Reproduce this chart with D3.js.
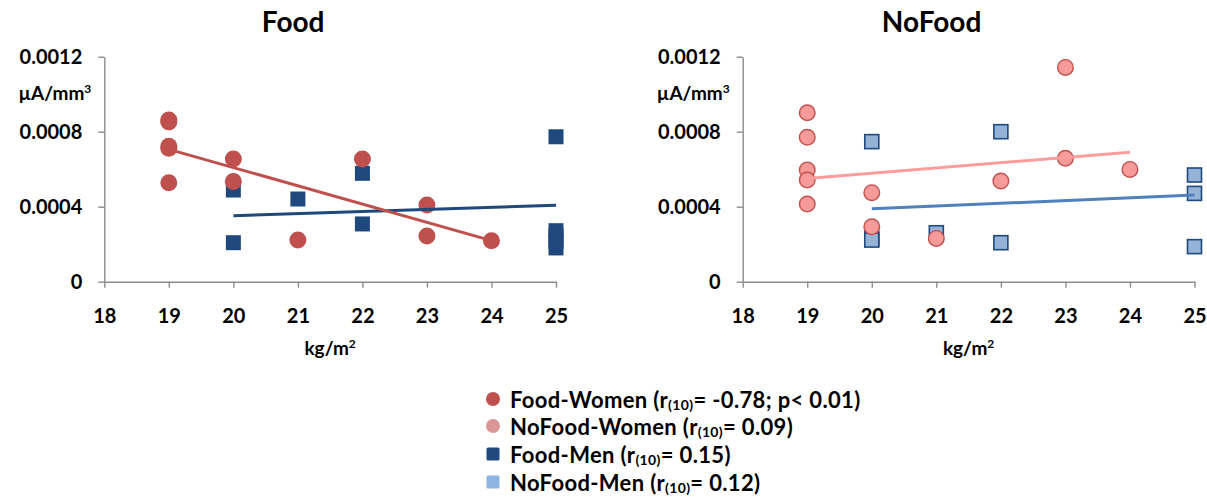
<!DOCTYPE html>
<html>
<head>
<meta charset="utf-8">
<script src="https://cdn.jsdelivr.net/npm/d3@7"></script>
<style>
  html, body { margin: 0; padding: 0; background: #ffffff; }
  svg { display: block; }
  text { font-family: Lato, "Open Sans", sans-serif; font-weight: bold; fill: #000; }
</style>
</head>
<body>
<svg id="chart" width="1207" height="503"></svg>
<script>
// ---------------- data ----------------
const panelTitles = ["Food", "NoFood"];
const xTicks = [18, 19, 20, 21, 22, 23, 24, 25];
const yTicks = [0, 0.0004, 0.0008, 0.0012];
const yTickLabels = ["0", "0.0004", "0.0008", "0.0012"];
const xAxisTitle = "kg/m";
const yAxisTitle = "µA/mm";

// Food panel
const foodWomenX = [19, 19, 19, 19, 19, 20, 20, 21, 22, 23, 23, 24];
const foodWomenY = [0.000862, 0.000852, 0.000722, 0.000712, 0.000528, 0.000654, 0.000535, 0.000222, 0.000654, 0.000409, 0.000244, 0.000219];
const foodMenX = [20, 20, 21, 22, 22, 25, 25, 25, 25, 25];
const foodMenY = [0.000489, 0.000208, 0.000441, 0.000578, 0.000308, 0.000773, 0.000272, 0.000245, 0.000215, 0.000180];
const foodWomenTrendX = [19, 24];
const foodWomenTrendY = [0.000706, 0.000219];
const foodMenTrendX = [20, 25];
const foodMenTrendY = [0.000352, 0.000408];

// NoFood panel
const noFoodWomenX = [19, 19, 19, 19, 19, 20, 20, 21, 22, 23, 23, 24];
const noFoodWomenY = [0.000901, 0.000770, 0.000596, 0.000542, 0.000414, 0.000475, 0.000293, 0.000231, 0.000537, 0.001143, 0.000658, 0.000599];
const noFoodMenX = [20, 20, 20, 21, 22, 22, 25, 25, 25];
const noFoodMenY = [0.000747, 0.000231, 0.000222, 0.000261, 0.000800, 0.000208, 0.000569, 0.000471, 0.000187];
const noFoodWomenTrendX = [19, 24];
const noFoodWomenTrendY = [0.000551, 0.000690];
const noFoodMenTrendX = [20, 25];
const noFoodMenTrendY = [0.000389, 0.000462];

// legend
const legendNames = ["Food-Women (r", "NoFood-Women (r", "Food-Men (r", "NoFood-Men (r"];
const legendSub = ["(10)", "(10)", "(10)", "(10)"];
const legendTail = ["= -0.78; p< 0.01)", "= 0.09)", "= 0.15)", "= 0.12)"];

// ---------------- styles ----------------
const C = {
  foodWomen: "#C0504D",
  foodMen: "#1F497D",
  noFoodWomenFill: "#F79B9A",
  noFoodWomenStroke: "#C0504D",
  noFoodMenFill: "#95B3D7",
  noFoodMenStroke: "#1F497D",
  noFoodWomenLine: "#FF9C9C",
  noFoodMenLine: "#4F81BD",
  axis: "#8C8C8C",
  legendNoFoodWomen: "#D99694",
  legendNoFoodMen: "#8DB4E2"
};

const svg = d3.select("#chart");

const panels = [
  { left: 104.3, right: 556, top: 56.7, bottom: 281.7, title: panelTitles[0],
    women: { x: foodWomenX, y: foodWomenY, fill: C.foodWomen, stroke: "none", r: 8.5 },
    men: { x: foodMenX, y: foodMenY, fill: C.foodMen, stroke: "none", s: 15 },
    lines: [
      { x: foodMenTrendX, y: foodMenTrendY, color: C.foodMen },
      { x: foodWomenTrendX, y: foodWomenTrendY, color: C.foodWomen }
    ] },
  { left: 742.7, right: 1194.5, top: 56.7, bottom: 281.7, title: panelTitles[1],
    women: { x: noFoodWomenX, y: noFoodWomenY, fill: C.noFoodWomenFill, stroke: C.noFoodWomenStroke, r: 7.8 },
    men: { x: noFoodMenX, y: noFoodMenY, fill: C.noFoodMenFill, stroke: C.noFoodMenStroke, s: 14 },
    lines: [
      { x: noFoodMenTrendX, y: noFoodMenTrendY, color: C.noFoodMenLine },
      { x: noFoodWomenTrendX, y: noFoodWomenTrendY, color: C.noFoodWomenLine }
    ] }
];

panels.forEach(p => {
  const x = d3.scaleLinear().domain([18, 25]).range([p.left, p.right]);
  const y = d3.scaleLinear().domain([0, 0.0012]).range([p.bottom, p.top]);
  const g = svg.append("g");

  // axes
  const yAxis = d3.axisLeft(y).tickValues(yTicks)
    .tickFormat((d, i) => yTickLabels[i]).tickSize(6).tickSizeOuter(0).tickPadding(16);
  const yg = g.append("g").attr("transform", `translate(${p.left},0)`).call(yAxis);
  const xAxis = d3.axisBottom(x).tickValues(xTicks)
    .tickFormat(d => String(d)).tickSize(6).tickSizeOuter(0).tickPadding(21);
  const xg = g.append("g").attr("transform", `translate(0,${p.bottom})`).call(xAxis);
  [yg, xg].forEach(a => {
    a.selectAll("path, line").attr("stroke", C.axis).attr("stroke-width", 1.4);
    a.selectAll("text").style("font-size", "20px").style("font-family", "Lato, sans-serif")
      .style("font-weight", "bold").attr("fill", "#000");
  });

  // titles
  g.append("text").attr("x", (p.left + p.right) / 2 - 37).attr("y", 32)
    .attr("text-anchor", "middle").style("font-size", "28px").text(p.title);

  const yt = g.append("text").attr("x", p.left - 13).attr("y", 100)
    .attr("text-anchor", "end").style("font-size", "19px");
  yt.append("tspan").text(yAxisTitle);
  yt.append("tspan").attr("dy", -7).style("font-size", "12px").text("3");

  const xt = g.append("text").attr("x", (p.left + p.right) / 2).attr("y", 355)
    .attr("text-anchor", "middle").style("font-size", "19px");
  xt.append("tspan").text(xAxisTitle);
  xt.append("tspan").attr("dy", -7).style("font-size", "12px").text("2");

  // men squares
  const men = p.men;
  g.append("g").selectAll("rect").data(men.x.map((d, i) => [d, men.y[i]])).join("rect")
    .attr("x", d => x(d[0]) - men.s / 2).attr("y", d => y(d[1]) - men.s / 2)
    .attr("width", men.s).attr("height", men.s)
    .attr("fill", men.fill).attr("stroke", men.stroke).attr("stroke-width", men.stroke === "none" ? 0 : 1.6);

  // women circles
  const w = p.women;
  g.append("g").selectAll("circle").data(w.x.map((d, i) => [d, w.y[i]])).join("circle")
    .attr("cx", d => x(d[0])).attr("cy", d => y(d[1])).attr("r", w.r)
    .attr("fill", w.fill).attr("stroke", w.stroke).attr("stroke-width", w.stroke === "none" ? 0 : 1.4);

  // trend lines
  const line = d3.line().x(d => x(d[0])).y(d => y(d[1]));
  p.lines.forEach(l => {
    g.append("path").datum(l.x.map((d, i) => [d, l.y[i]]))
      .attr("d", line).attr("fill", "none").attr("stroke", l.color).attr("stroke-width", 3);
  });
});

// legend
const legendColors = [C.foodWomen, C.legendNoFoodWomen, C.foodMen, C.legendNoFoodMen];
const legendShapes = ["circle", "circle", "square", "square"];
const rowY = [402, 429, 457, 485];
const lg = svg.append("g");
legendNames.forEach((name, i) => {
  const cy = rowY[i] - 3;
  if (legendShapes[i] === "circle") {
    lg.append("circle").attr("cx", 493).attr("cy", cy).attr("r", 7).attr("fill", legendColors[i]);
  } else {
    lg.append("rect").attr("x", 486.5).attr("y", cy - 6.5).attr("width", 13).attr("height", 13)
      .attr("rx", 1.5).attr("fill", legendColors[i]);
  }
  const t = lg.append("text").attr("x", 510).attr("y", rowY[i] + 6)
    .style("font-size", "22px").style("letter-spacing", "0.35px");
  t.append("tspan").text(name);
  t.append("tspan").attr("dy", 2).style("font-size", "14px").text(legendSub[i]);
  t.append("tspan").attr("dy", -2).text(legendTail[i]);
});
</script>
</body>
</html>
